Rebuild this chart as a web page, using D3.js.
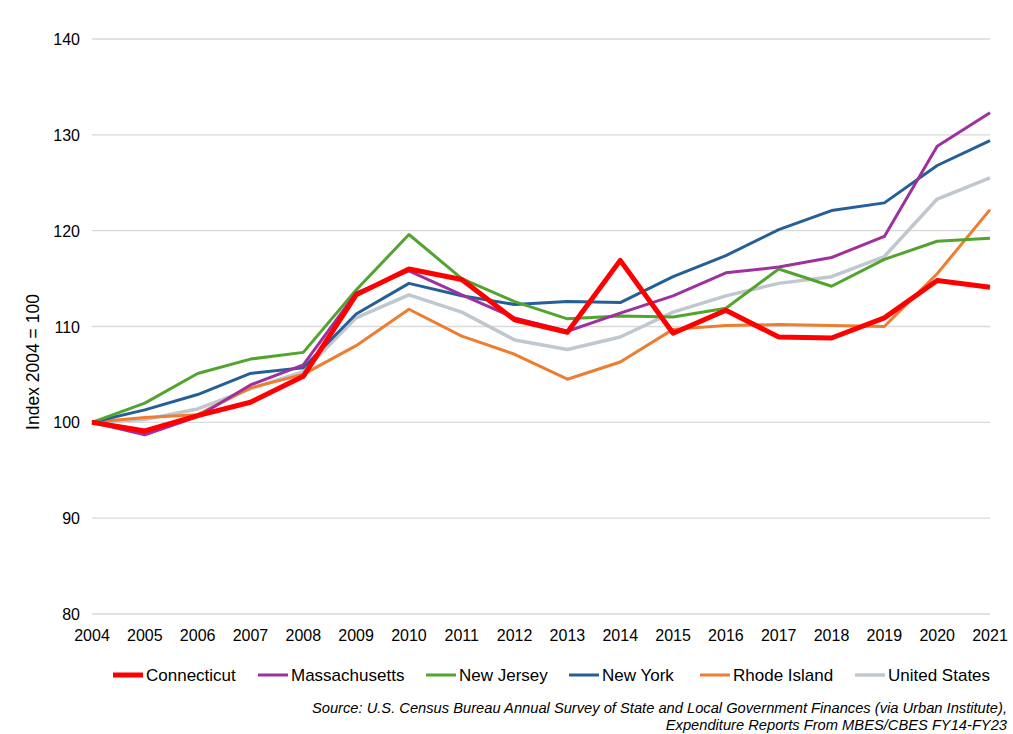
<!DOCTYPE html>
<html>
<head>
<meta charset="utf-8">
<script src="https://cdn.jsdelivr.net/npm/d3@7"></script>
<style>
  body { margin: 0; background: #fff; }
  svg { font-family: "Liberation Sans", Arial, sans-serif; }
</style>
</head>
<body>
<div id="chart"></div>
<script>
// Dados
const years = [2004, 2005, 2006, 2007, 2008, 2009, 2010, 2011, 2012, 2013, 2014, 2015, 2016, 2017, 2018, 2019, 2020, 2021];
const connecticut = [100, 99.1, 100.7, 102.1, 104.8, 113.3, 116.0, 114.9, 110.7, 109.4, 116.9, 109.3, 111.7, 108.9, 108.8, 110.9, 114.8, 114.1];
const massachusetts = [100, 98.7, 100.6, 103.9, 106.0, 113.5, 115.8, 113.3, 110.9, 109.5, 111.4, 113.2, 115.6, 116.2, 117.2, 119.4, 128.8, 132.3];
const newJersey = [100, 102.0, 105.1, 106.6, 107.3, 113.8, 119.6, 115.0, 112.6, 110.8, 111.1, 111.0, 111.9, 116.0, 114.2, 117.0, 118.9, 119.2];
const newYork = [100, 101.3, 102.9, 105.1, 105.7, 111.3, 114.5, 113.2, 112.3, 112.6, 112.5, 115.2, 117.4, 120.1, 122.1, 122.9, 126.8, 129.4];
const rhodeIsland = [100, 100.5, 100.8, 103.6, 105.0, 108.0, 111.8, 109.0, 107.1, 104.5, 106.3, 109.7, 110.1, 110.2, 110.1, 110.0, 115.5, 122.2];
const unitedStates = [100, 100.3, 101.4, 103.5, 105.3, 110.9, 113.3, 111.5, 108.6, 107.6, 108.9, 111.5, 113.2, 114.5, 115.2, 117.3, 123.3, 125.5];
const yTicks = [80, 90, 100, 110, 120, 130, 140];

const series = [
  { name: "Connecticut", values: connecticut, color: "#FF0000", width: 5 },
  { name: "Massachusetts", values: massachusetts, color: "#9E319E", width: 3 },
  { name: "New Jersey", values: newJersey, color: "#52A42F", width: 3 },
  { name: "New York", values: newYork, color: "#245F98", width: 3 },
  { name: "Rhode Island", values: rhodeIsland, color: "#ED7D31", width: 3 },
  { name: "United States", values: unitedStates, color: "#C0C7CF", width: 3.5 },
];

// –––––––––––––––––––––––––––––––––––––––

const W = 1013, H = 734;
const svg = d3.select("#chart").append("svg").attr("width", W).attr("height", H);

// Escalas
const x = d3.scalePoint().domain(years).range([92, 990]);
const y = d3.scaleLinear().domain([80, 140]).range([614, 39]);

// Grelha
svg.append("g")
  .selectAll("line")
  .data(yTicks)
  .enter()
  .append("line")
  .attr("x1", 92)
  .attr("x2", 990)
  .attr("y1", (d) => y(d))
  .attr("y2", (d) => y(d))
  .attr("stroke", "#d9d9d9")
  .attr("stroke-width", 1.3);

// Eixo Y
svg.append("g")
  .selectAll("text")
  .data(yTicks)
  .enter()
  .append("text")
  .attr("x", 80)
  .attr("y", (d) => y(d) + 6)
  .attr("text-anchor", "end")
  .attr("font-size", 16)
  .attr("fill", "#000")
  .text((d) => d);

svg.append("text")
  .attr("transform", "translate(39,362) rotate(-90)")
  .attr("text-anchor", "middle")
  .attr("font-size", 17.5)
  .text("Index 2004 = 100");

// Eixo X
svg.append("g")
  .selectAll("text")
  .data(years)
  .enter()
  .append("text")
  .attr("x", (d) => x(d))
  .attr("y", 641)
  .attr("text-anchor", "middle")
  .attr("font-size", 16)
  .text((d) => d);

// Linhas (ordem inversa para o vermelho ficar por cima)
const line = d3.line()
  .x((d, i) => x(years[i]))
  .y((d) => y(d));

svg.append("g")
  .selectAll("path")
  .data(series.slice().reverse())
  .enter()
  .append("path")
  .attr("d", (d) => line(d.values))
  .attr("fill", "none")
  .attr("stroke", (d) => d.color)
  .attr("stroke-width", (d) => d.width)
  .attr("stroke-linejoin", "round");

// Legenda
const legendX = [113, 258, 426, 569, 700, 855];
const legend = svg.append("g")
  .selectAll("g")
  .data(series)
  .enter()
  .append("g")
  .attr("transform", (d, i) => "translate(" + legendX[i] + ",675)");

legend.append("line")
  .attr("x1", 0)
  .attr("x2", 30)
  .attr("stroke", (d) => d.color)
  .attr("stroke-width", (d) => d.width);

legend.append("text")
  .attr("x", 33)
  .attr("y", 6)
  .attr("font-size", 17)
  .text((d) => d.name);

// Fonte
const source = svg.append("text")
  .attr("text-anchor", "end")
  .attr("font-size", 14.7)
  .attr("font-style", "italic");
source.append("tspan").attr("x", 1007).attr("y", 713)
  .text("Source: U.S. Census Bureau Annual Survey of State and Local Government Finances (via Urban Institute),");
source.append("tspan").attr("x", 1007).attr("y", 730)
  .text("Expenditure Reports From MBES/CBES FY14-FY23");
</script>
</body>
</html>
